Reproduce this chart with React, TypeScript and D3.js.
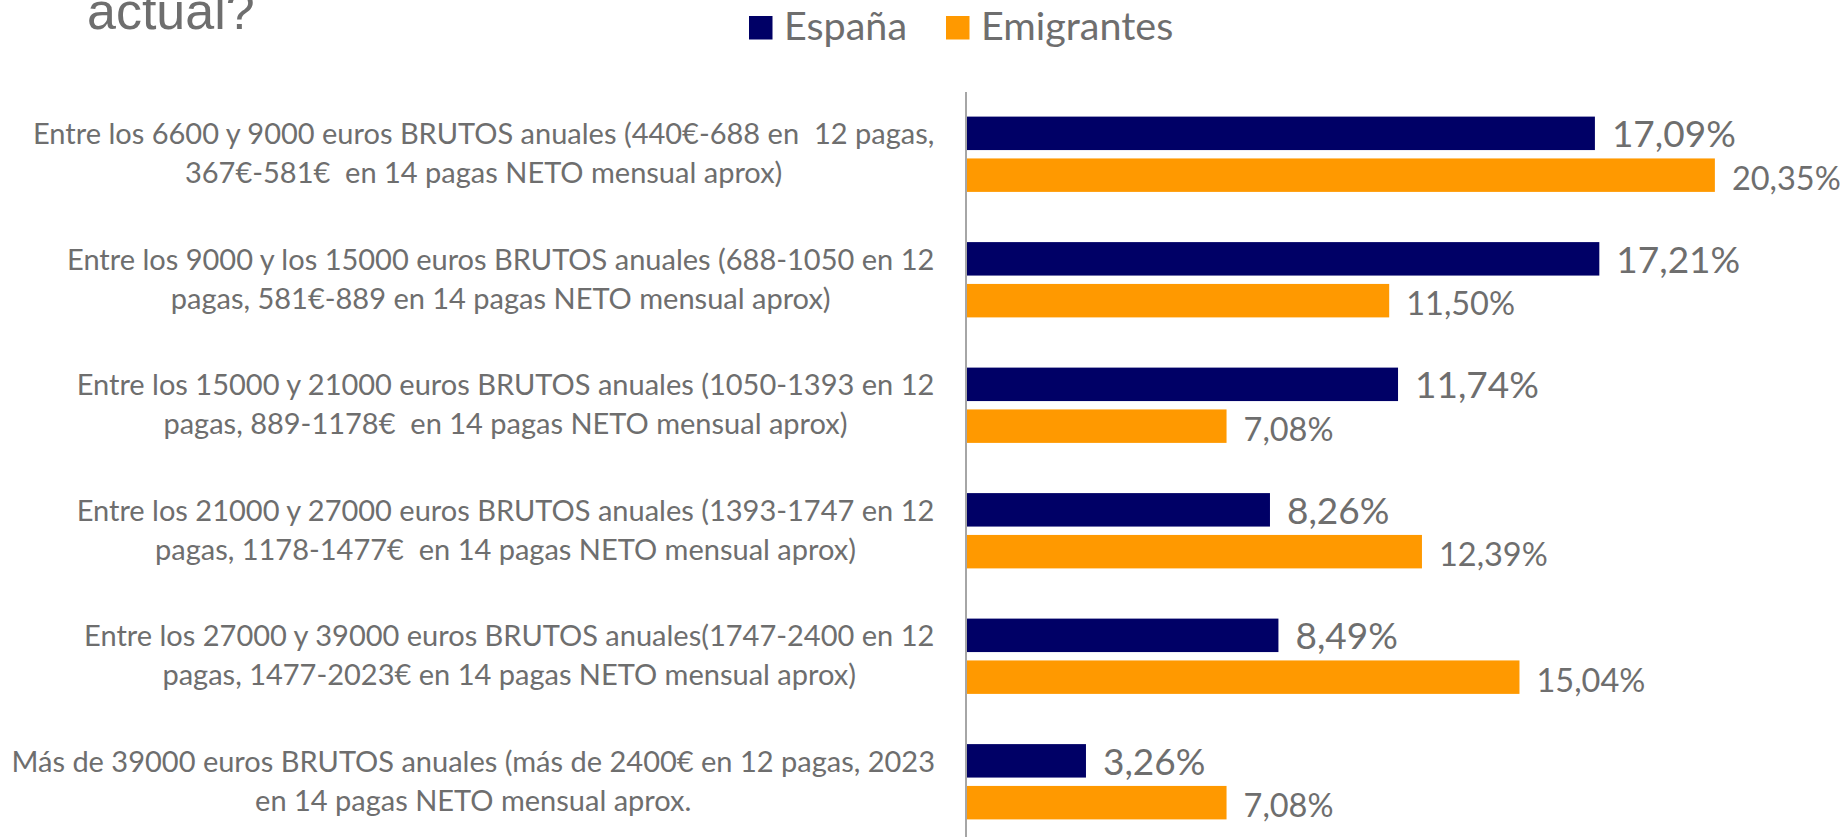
import React, { useMemo } from "react";
import * as d3 from "d3";

const width = 1847;
const height = 837;
const margin = { top: 92, left: 966, right: 0, bottom: 0 };

const textColor = "#6e6e6e";
const labelFont = "Lato, 'Open Sans', sans-serif";

const titleText = "actual?";

const categories = [
  ["Entre los 6600 y 9000 euros BRUTOS anuales (440€-688 en  12 pagas,", "367€-581€  en 14 pagas NETO mensual aprox)"],
  ["Entre los 9000 y los 15000 euros BRUTOS anuales (688-1050 en 12", "pagas, 581€-889 en 14 pagas NETO mensual aprox)"],
  ["Entre los 15000 y 21000 euros BRUTOS anuales (1050-1393 en 12", "pagas, 889-1178€  en 14 pagas NETO mensual aprox)"],
  ["Entre los 21000 y 27000 euros BRUTOS anuales (1393-1747 en 12", "pagas, 1178-1477€  en 14 pagas NETO mensual aprox)"],
  ["Entre los 27000 y 39000 euros BRUTOS anuales(1747-2400 en 12", "pagas, 1477-2023€ en 14 pagas NETO mensual aprox)"],
  ["Más de 39000 euros BRUTOS anuales (más de 2400€ en 12 pagas, 2023", "en 14 pagas NETO mensual aprox."],
];

const seriesNames = ["España", "Emigrantes"];
const seriesColors = ["#000066", "#ff9900"];
const espana = [17.09, 17.21, 11.74, 8.26, 8.49, 3.26];
const emigrantes = [20.35, 11.5, 7.08, 12.39, 15.04, 7.08];

const fmt = (v: number) => d3.format(".2f")(v).replace(".", ",") + "%";

// measure a line of text so the wrapped label block can be right aligned
let ctx: CanvasRenderingContext2D | null = null;
function measure(text: string, font: string) {
  if (!ctx) ctx = document.createElement("canvas").getContext("2d");
  ctx!.font = font;
  return ctx!.measureText(text).width;
}

export default function App() {
  const catSize = 29;
  const idx = categories.map((_, i) => String(i));

  const y = d3.scaleBand().domain(idx).range([91.5, 844.5]).paddingInner(0.4).paddingOuter(0.2);
  const ySub = d3.scaleBand().domain(seriesNames).range([0, y.bandwidth()]).paddingInner(0.2);
  const x = d3.scaleLinear().domain([0, 25]).range([margin.left, margin.left + 25 * 36.8]);

  const series = [espana, emigrantes];

  const blocks = useMemo(
    () =>
      categories.map((lines) =>
        Math.max(...lines.map((l) => measure(l, `${catSize}px ${labelFont}`)))
      ),
    []
  );

  return (
    <svg
      width={width}
      height={height}
      style={{ position: "absolute", left: 0, top: 0, background: "#fff" }}
    >
      <text x={87} y={29} fontFamily="'Liberation Sans', Arial, sans-serif" fontSize={52} fill={textColor}>
        {titleText}
      </text>

      {/* legend */}
      {seriesNames.map((s, i) => {
        const lx = [749, 946][i];
        return (
          <g key={s}>
            <rect x={lx} y={16} width={23.5} height={23.5} fill={seriesColors[i]} />
            <text x={lx + 35} y={39.5} fontFamily={labelFont} fontSize={39.5} fill={textColor}>
              {s}
            </text>
          </g>
        );
      })}

      {/* category labels */}
      {categories.map((lines, i) => {
        const cy = (y(String(i)) ?? 0) + y.bandwidth() / 2;
        const cx = 935 - blocks[i] / 2;
        return (
          <text
            key={i}
            x={cx}
            textAnchor="middle"
            fontFamily={labelFont}
            fontSize={catSize}
            fill={textColor}
            style={{ whiteSpace: "pre" }}
          >
            <tspan x={cx} y={cy - 10}>{lines[0]}</tspan>
            <tspan x={cx} y={cy + 29}>{lines[1]}</tspan>
          </text>
        );
      })}

      {/* bars */}
      {series.map((vals, s) =>
        vals.map((v, i) => {
          const by = (y(String(i)) ?? 0) + (ySub(seriesNames[s]) ?? 0);
          return (
            <rect
              key={`${s}-${i}`}
              x={x(0)}
              y={by}
              width={x(v) - x(0)}
              height={ySub.bandwidth()}
              fill={seriesColors[s]}
            />
          );
        })
      )}

      {/* value labels */}
      {series.map((vals, s) =>
        vals.map((v, i) => {
          const by = (y(String(i)) ?? 0) + (ySub(seriesNames[s]) ?? 0);
          return (
            <text
              key={`l${s}-${i}`}
              x={x(v) + 17}
              y={by + ySub.bandwidth() - (s === 0 ? 3 : 2)}
              fontFamily={labelFont}
              fontSize={s === 0 ? 37 : 32.5}
              fill={textColor}
            >
              {fmt(v)}
            </text>
          );
        })
      )}

      {/* axis line */}
      <line x1={x(0)} x2={x(0)} y1={margin.top} y2={height} stroke="#a6a6a6" strokeWidth={2} />
    </svg>
  );
}
